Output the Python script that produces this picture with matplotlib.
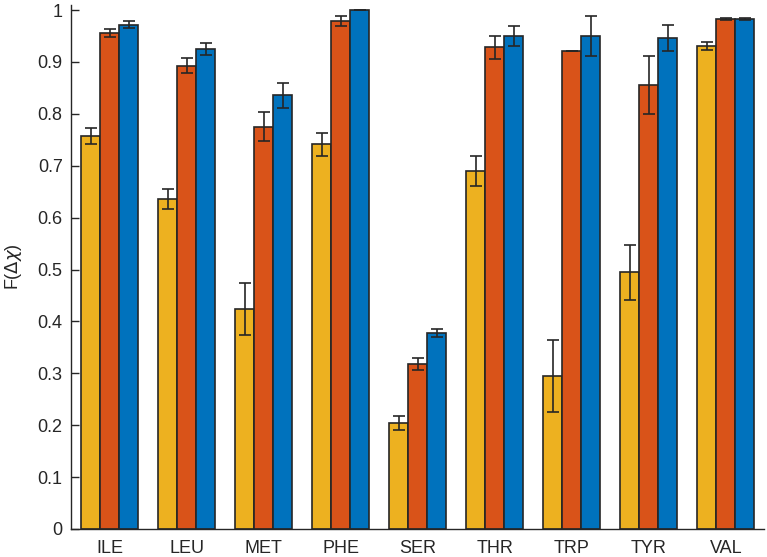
import matplotlib.pyplot as plt
import numpy as np

plt.rcParams['font.family'] = ['Liberation Sans', 'DejaVu Sans']

# residue names on x axis
names = ['ILE', 'LEU', 'MET', 'PHE', 'SER', 'THR', 'TRP', 'TYR', 'VAL']

# bar heights, three series per residue
yellow_vals = [0.757, 0.636, 0.424, 0.741, 0.204, 0.689, 0.295, 0.495, 0.931]
orange_vals = [0.956, 0.893, 0.775, 0.979, 0.318, 0.928, 0.922, 0.855, 0.983]
blue_vals = [0.972, 0.925, 0.836, 1.000, 0.377, 0.950, 0.950, 0.947, 0.983]

# error bar half lengths
yellow_err = [0.016, 0.019, 0.050, 0.022, 0.014, 0.029, 0.070, 0.053, 0.008]
orange_err = [0.007, 0.015, 0.028, 0.010, 0.012, 0.022, 0.000, 0.056, 0.002]
blue_err = [0.006, 0.011, 0.024, 0.000, 0.008, 0.020, 0.038, 0.025, 0.002]

colors = [(0.929, 0.694, 0.125), (0.850, 0.325, 0.098), (0.0, 0.447, 0.741)]
edge = (0.15, 0.15, 0.15)

fig = plt.figure(figsize=(7.67, 5.57), dpi=100)
ax = fig.add_axes([0.0926, 0.0503, 0.904, 0.941])

x = np.arange(1, len(names) + 1)
w = 0.247
series = [(yellow_vals, yellow_err), (orange_vals, orange_err), (blue_vals, blue_err)]
for i, ((vals, errs), c) in enumerate(zip(series, colors)):
    xs = x + (i - 1) * w
    ax.bar(xs, vals, width=w, color=c, edgecolor=edge, linewidth=1.2, zorder=2)
    ax.errorbar(xs, vals, yerr=errs, fmt='none', ecolor=edge, elinewidth=1.2,
                capsize=4.3, capthick=1.2, zorder=3)

ax.set_xlim(0.5, 9.5)
ax.set_ylim(0, 1.01)
ax.set_xticks(x)
ax.set_xticklabels(names)
ax.set_yticks(np.arange(0, 1.01, 0.1))
ax.set_yticklabels(['0', '0.1', '0.2', '0.3', '0.4', '0.5', '0.6', '0.7', '0.8', '0.9', '1'])
ax.tick_params(direction='in', length=6, width=1, labelsize=13, color=edge, labelcolor=edge)
ax.tick_params(axis='y', pad=6)
ax.tick_params(axis='x', pad=8)
ax.set_ylabel(r'F($\Delta\chi$)', fontsize=13, labelpad=10, color=edge)
for s in ['top', 'right']:
    ax.spines[s].set_visible(False)
for s in ['left', 'bottom']:
    ax.spines[s].set_color(edge)
    ax.spines[s].set_linewidth(1)

fig.savefig('out.png', dpi=100)
